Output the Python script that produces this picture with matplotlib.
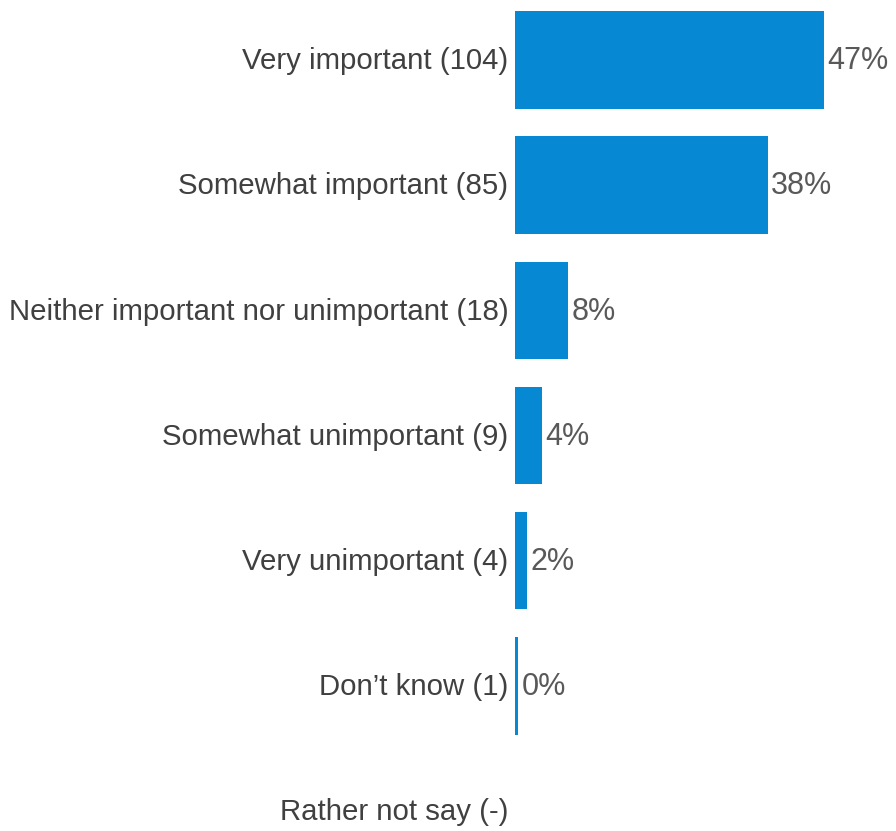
import matplotlib
matplotlib.use('Agg')
import matplotlib.pyplot as plt

# Survey answers and respondent counts
categories = [
    'Very important',
    'Somewhat important',
    'Neither important nor unimportant',
    'Somewhat unimportant',
    'Very unimportant',
    "Don\u2019t know",
    'Rather not say',
]
counts = [104, 85, 18, 9, 4, 1, None]

total = sum(c for c in counts if c is not None)
shares = [(c / total * 100) if c is not None else None for c in counts]

bar_color = '#0788d3'
label_color = '#404040'
pct_color = '#595959'

fig = plt.figure(figsize=(8.96, 8.31), dpi=100)
# bars start at x=515 px, 100% spans ~657 px
ax = fig.add_axes([515 / 896, 0, 381 / 896, 1])
ax.set_xlim(0, 381 / 656.6 * 100)
row = 125.17
ax.set_ylim((831 - 60) / row, -60 / row)
ax.axis('off')

for i, (cat, c, s) in enumerate(zip(categories, counts, shares)):
    n = '-' if c is None else str(c)
    ax.text(-1.0, i + 0.01, f'{cat} ({n})', ha='right', va='center',
            fontsize=21.2, color=label_color, family='Liberation Sans')
    if s is None:
        continue
    ax.barh(i, s, height=0.78, color=bar_color, linewidth=0)
    ax.text(s + 0.5, i + 0.01, f'{s:.0f}%', ha='left', va='center',
            fontsize=22, color=pct_color, family='Liberation Sans')

fig.savefig('out.png', dpi=100)
